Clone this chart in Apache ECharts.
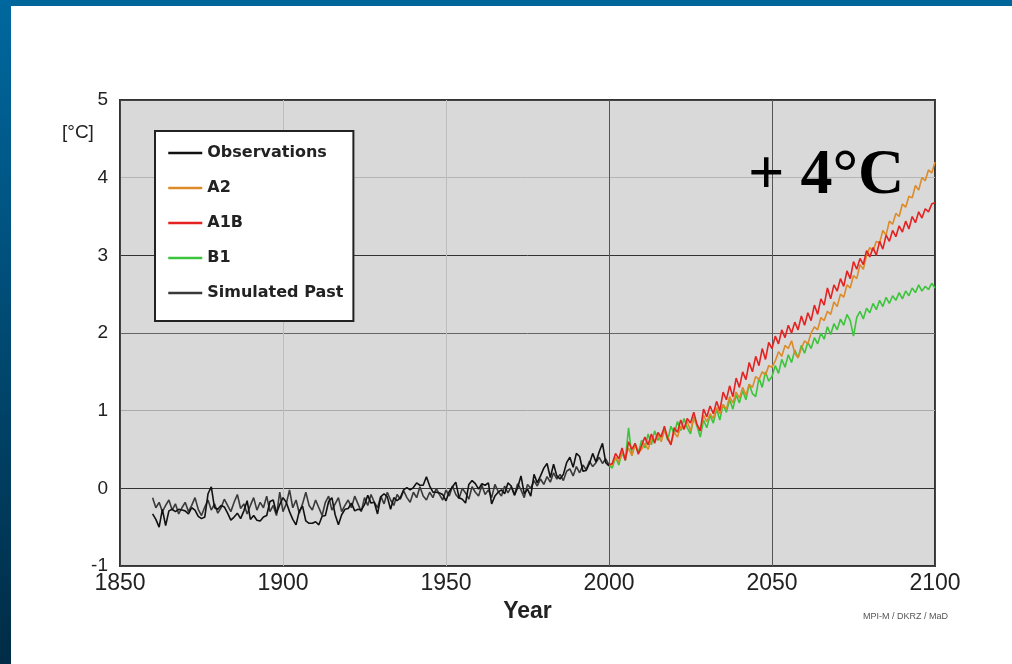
<!DOCTYPE html>
<html>
<head>
<meta charset="utf-8">
<script src="https://cdn.jsdelivr.net/npm/echarts@6/dist/echarts.min.js"></script>
<style>
  html, body { margin: 0; padding: 0; background: #fff; }
  #chart { width: 1012px; height: 664px; }
</style>
</head>
<body>
<div id="chart"></div>
<script>
// past: yearly anomalies from 1860
const pastStart = 1860
const observations = [
  -0.33, -0.40, -0.50, -0.27, -0.48, -0.29, -0.27, -0.30, -0.27, -0.28,
  -0.29, -0.33, -0.25, -0.28, -0.36, -0.39, -0.37, -0.07, 0.02, -0.25,
  -0.27, -0.22, -0.24, -0.32, -0.41, -0.37, -0.32, -0.39, -0.29, -0.16,
  -0.40, -0.35, -0.41, -0.42, -0.37, -0.35, -0.17, -0.15, -0.32, -0.21,
  -0.12, -0.18, -0.30, -0.40, -0.47, -0.29, -0.23, -0.42, -0.45, -0.45,
  -0.43, -0.47, -0.36, -0.35, -0.17, -0.12, -0.34, -0.47, -0.34, -0.27,
  -0.26, -0.19, -0.29, -0.27, -0.28, -0.21, -0.09, -0.19, -0.18, -0.33,
  -0.11, -0.07, -0.11, -0.27, -0.12, -0.16, -0.12, -0.02, 0.01, -0.02,
  0.01, 0.07, 0.04, 0.04, 0.15, 0.03, -0.05, -0.05, -0.06, -0.08,
  -0.16, -0.04, 0.02, 0.08, -0.12, -0.14, -0.19, 0.05, 0.10, 0.06,
  -0.01, 0.06, 0.04, 0.07, -0.20, -0.10, -0.05, -0.02, -0.07, 0.07,
  0.03, -0.09, 0.01, 0.16, -0.07, -0.01, -0.10, 0.18, 0.07, 0.16,
  0.26, 0.32, 0.14, 0.31, 0.16, 0.12, 0.18, 0.33, 0.40, 0.27,
  0.45, 0.41, 0.22, 0.23, 0.32, 0.45, 0.34, 0.47, 0.58, 0.33, 0.29
]
const simulatedPast = [
  -0.12, -0.25, -0.18, -0.30, -0.22, -0.15, -0.28, -0.20, -0.33, -0.25,
  -0.18, -0.30, -0.22, -0.12, -0.27, -0.35, -0.24, -0.15, -0.28, -0.20,
  -0.32, -0.25, -0.14, -0.22, -0.30, -0.18, -0.08, -0.26, -0.20, -0.33,
  -0.22, -0.12, -0.28, -0.18, -0.25, -0.10, -0.30, -0.22, -0.35, -0.05,
  -0.30, -0.20, -0.02, -0.25, -0.15, -0.32, -0.20, -0.05, -0.22, -0.28,
  -0.15, -0.25, -0.35, -0.18, -0.10, -0.28, -0.20, -0.12, -0.30, -0.22,
  -0.15, -0.25, -0.10, -0.20, -0.30, -0.12, -0.22, -0.08, -0.18, -0.25,
  -0.10, -0.20, -0.05, -0.15, -0.22, -0.08, -0.14, -0.03, -0.12, -0.18,
  -0.05, -0.12, 0.02, -0.10, -0.15, -0.05, -0.12, 0.00, -0.08, -0.15,
  -0.02, -0.10, 0.03, -0.08, -0.13, 0.00, -0.06, -0.14, 0.02, -0.05,
  -0.10, 0.04, -0.08, -0.02, -0.12, 0.05, -0.04, -0.10, 0.03, -0.06,
  0.02, -0.08, 0.06, -0.02, -0.12, 0.05, 0.00, 0.10, 0.03, 0.12,
  0.05, 0.15, 0.08, 0.20, 0.12, 0.18, 0.10, 0.22, 0.25, 0.16,
  0.28, 0.20, 0.30, 0.24, 0.35, 0.28, 0.33, 0.40, 0.32, 0.38, 0.30
]

// scenarios: yearly from 2000
const scenarioStart = 2000
const a2 = [
  0.30,
  0.30, 0.40, 0.34, 0.46, 0.40, 0.52, 0.42, 0.56, 0.46, 0.50,
  0.58, 0.50, 0.64, 0.62, 0.70, 0.60, 0.74, 0.66, 0.58, 0.72,
  0.66, 0.80, 0.76, 0.86, 0.74, 0.90, 0.82, 0.74, 0.94, 0.86,
  0.96, 0.90, 1.04, 0.96, 1.08, 1.02, 1.18, 1.10, 1.24, 1.16,
  1.30, 1.20, 1.34, 1.30, 1.44, 1.40, 1.50, 1.46, 1.58, 1.56,
  1.64, 1.76, 1.70, 1.84, 1.80, 1.90, 1.74, 1.68, 1.80, 1.90,
  1.86, 2.00, 2.08, 2.04, 2.20, 2.16, 2.28, 2.24, 2.40, 2.34,
  2.50, 2.46, 2.62, 2.58, 2.74, 2.70, 2.88, 2.82, 3.00, 3.10,
  3.06, 3.18, 3.16, 3.32, 3.26, 3.44, 3.40, 3.54, 3.50, 3.66,
  3.62, 3.76, 3.74, 3.90, 3.84, 4.00, 3.96, 4.10, 4.06, 4.20
]
const a1b = [
  0.30,
  0.32, 0.45, 0.38, 0.52, 0.36, 0.60, 0.50, 0.58, 0.44, 0.55,
  0.66, 0.56, 0.70, 0.58, 0.72, 0.66, 0.80, 0.64, 0.56, 0.78,
  0.72, 0.88, 0.76, 0.90, 0.84, 0.98, 0.82, 0.74, 1.02, 0.92,
  1.06, 0.96, 1.12, 1.00, 1.24, 1.14, 1.32, 1.18, 1.42, 1.30,
  1.50, 1.40, 1.62, 1.50, 1.70, 1.58, 1.80, 1.66, 1.88, 1.80,
  1.96, 1.86, 2.04, 1.94, 2.10, 2.00, 2.14, 2.04, 2.22, 2.10,
  2.26, 2.16, 2.36, 2.24, 2.44, 2.36, 2.58, 2.44, 2.62, 2.54,
  2.70, 2.60, 2.80, 2.70, 2.92, 2.82, 2.96, 2.88, 3.06, 2.98,
  3.10, 3.00, 3.18, 3.08, 3.26, 3.18, 3.32, 3.24, 3.38, 3.30,
  3.44, 3.34, 3.50, 3.42, 3.56, 3.48, 3.60, 3.56, 3.66, 3.68
]
const b1 = [
  0.30,
  0.26, 0.40, 0.30, 0.46, 0.36, 0.78, 0.42, 0.58, 0.46, 0.62,
  0.52, 0.70, 0.56, 0.74, 0.62, 0.68, 0.76, 0.62, 0.80, 0.70,
  0.86, 0.74, 0.90, 0.78, 0.70, 0.92, 0.80, 0.66, 0.88, 0.78,
  0.94, 0.84, 1.02, 0.88, 1.08, 0.98, 1.14, 1.02, 1.20, 1.10,
  1.26, 1.14, 1.34, 1.22, 1.18, 1.42, 1.30, 1.50, 1.38, 1.44,
  1.58, 1.48, 1.66, 1.56, 1.72, 1.62, 1.78, 1.68, 1.84, 1.74,
  1.88, 1.80, 1.94, 1.86, 2.00, 1.92, 2.08, 1.98, 2.12, 2.04,
  2.18, 2.10, 2.24, 2.16, 1.96, 2.20, 2.28, 2.18, 2.32, 2.26,
  2.38, 2.30, 2.42, 2.34, 2.46, 2.38, 2.48, 2.42, 2.52, 2.44,
  2.54, 2.48, 2.58, 2.52, 2.62, 2.54, 2.60, 2.56, 2.64, 2.58
]

const xTicks = [1850, 1900, 1950, 2000, 2050, 2100]
const yTicks = [-1, 0, 1, 2, 3, 4, 5]

function toPairs(start, values) {
  return values.map((v, i) => [start + i, v])
}

const chart = echarts.init(document.getElementById('chart'))

function lineSeries(name, color, start, values, z) {
  return {
    name: name,
    type: 'line',
    symbol: 'none',
    z: z,
    lineStyle: { color: color, width: 1.6 },
    itemStyle: { color: color },
    data: toPairs(start, values)
  }
}

chart.setOption({
  animation: false,
  backgroundColor: '#ffffff',
  textStyle: { fontFamily: 'Liberation Sans' },
  grid: {
    left: 120,
    top: 100,
    right: 77,
    bottom: 98,
    show: true,
    backgroundColor: '#d9d9d9',
    borderColor: '#333',
    borderWidth: 2
  },
  legend: {
    orient: 'vertical',
    left: 155,
    top: 131,
    padding: [14, 10, 20, 12],
    itemWidth: 34,
    itemHeight: 14,
    itemGap: 19,
    backgroundColor: '#ffffff',
    borderColor: '#222',
    borderWidth: 2,
    selectedMode: false,
    itemStyle: { color: 'rgba(0,0,0,0)', borderWidth: 0, opacity: 0 },
    lineStyle: { width: 2.5 },
    textStyle: {
      fontFamily: 'DejaVu Sans',
      fontWeight: 'bold',
      fontSize: 16,
      lineHeight: 14,
      color: '#222'
    },
    data: ['Observations', 'A2', 'A1B', 'B1', 'Simulated Past']
  },
  xAxis: {
    type: 'value',
    min: xTicks[0],
    max: xTicks[xTicks.length - 1],
    interval: 50,
    name: 'Year',
    nameLocation: 'middle',
    nameGap: 30,
    nameTextStyle: { fontSize: 23, fontWeight: 'bold', color: '#222' },
    axisLine: { show: false },
    axisTick: { show: false },
    axisLabel: { fontSize: 23, color: '#222', margin: 6, formatter: v => String(v) },
    splitLine: {
      show: true,
      lineStyle: { color: ['#444', '#bdbdbd', '#bdbdbd', '#555', '#555', '#444'], width: 1 }
    }
  },
  yAxis: {
    type: 'value',
    min: yTicks[0],
    max: yTicks[yTicks.length - 1],
    interval: 1,
    axisLine: { show: false },
    axisTick: { show: false },
    axisLabel: { fontSize: 19, color: '#222', margin: 12 },
    splitLine: {
      show: true,
      lineStyle: { color: ['#444', '#333', '#aaa', '#666', '#333', '#b5b5b5', '#444'], width: 1 }
    }
  },
  graphic: [
    {
      type: 'rect',
      left: 0,
      top: 0,
      shape: { width: 1012, height: 6 },
      style: { fill: '#006699' },
      z: 100
    },
    {
      type: 'rect',
      left: 0,
      top: 0,
      shape: { width: 11, height: 664 },
      style: {
        fill: new echarts.graphic.LinearGradient(0, 0, 0, 1, [
          { offset: 0, color: '#00689f' },
          { offset: 1, color: '#002c46' }
        ])
      },
      z: 100
    },
    {
      type: 'text',
      left: 62,
      top: 123,
      style: { text: '[°C]', fontSize: 19, fontFamily: 'Liberation Sans', fill: '#222' }
    },
    {
      type: 'text',
      x: 748,
      y: 176,
      style: {
        text: '+ 4°C',
        fontSize: 64,
        fontWeight: 'bold',
        fontFamily: 'Liberation Serif',
        fill: '#000',
        textAlign: 'left',
        textVerticalAlign: 'middle'
      },
      z: 50
    },
    {
      type: 'text',
      x: 948,
      y: 617,
      style: {
        text: 'MPI-M / DKRZ / MaD',
        fontSize: 9,
        fontFamily: 'Liberation Sans',
        fill: '#555',
        textAlign: 'right',
        textVerticalAlign: 'middle'
      }
    }
  ],
  series: [
    lineSeries('Observations', '#111111', pastStart, observations, 3),
    lineSeries('Simulated Past', '#3a3a3a', pastStart, simulatedPast, 2),
    lineSeries('B1', '#3cc43c', scenarioStart, b1, 2),
    lineSeries('A2', '#dd8a28', scenarioStart, a2, 3),
    lineSeries('A1B', '#e52222', scenarioStart, a1b, 4)
  ]
})
</script>
</body>
</html>
